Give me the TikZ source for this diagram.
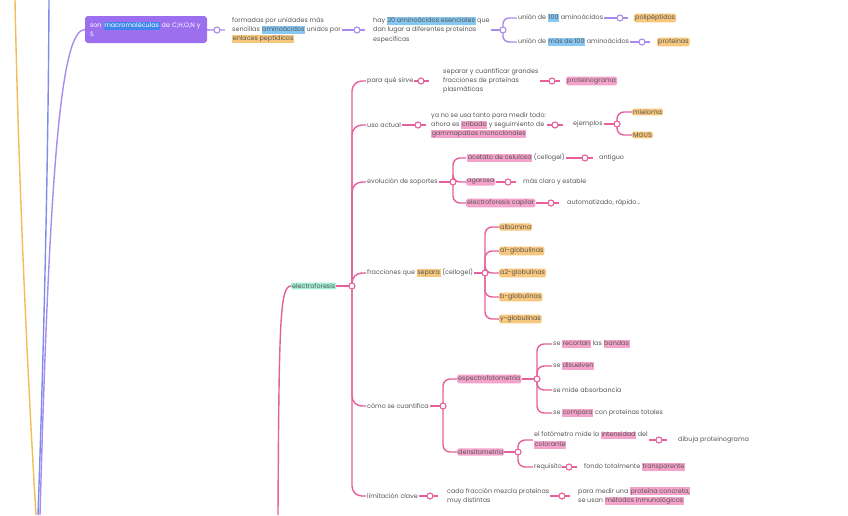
\documentclass[tikz,border=0pt]{standalone}
\usepackage{fontspec}
\setmainfont{Poppins}
\usepackage{xcolor}
\usepackage{tikz}
\usetikzlibrary{positioning,calc,backgrounds}
\definecolor{mmink}{HTML}{555555}
\definecolor{mmbox}{HTML}{9C6FEE}
\definecolor{mmviolet}{HTML}{A98BEF}
\definecolor{mmpink}{HTML}{E5609C}
\definecolor{mmyellow}{HTML}{F0BE55}
\definecolor{mmblue}{HTML}{7A8EEB}
\definecolor{hlpink}{HTML}{F6A3CB}
\definecolor{hlorange}{HTML}{F8C77E}
\definecolor{hlblue}{HTML}{86C8F2}
\definecolor{hlbluedk}{HTML}{3F86EC}
\definecolor{hlmint}{HTML}{A6EFD9}
\newcommand{\hlp}[1]{{\fboxsep=0.6pt\colorbox{hlpink}{\vphantom{hg}#1}}}
\newcommand{\hlo}[1]{{\fboxsep=0.6pt\colorbox{hlorange}{\vphantom{hg}#1}}}
\newcommand{\hlb}[1]{{\fboxsep=0.6pt\colorbox{hlblue}{\vphantom{hg}#1}}}
\newcommand{\hlbd}[1]{{\fboxsep=0.6pt\colorbox{hlbluedk}{\vphantom{hg}#1}}}
\tikzset{
  txt/.style    ={anchor=west,align=left,inner sep=1pt,text=mmink,font=\fontsize{6.4}{9.2}\selectfont},
  tagp/.style   ={txt,fill=hlpink,rounded corners=1.5pt},
  tago/.style   ={txt,fill=hlorange,rounded corners=1.5pt},
  tagm/.style   ={txt,fill=hlmint,rounded corners=1.5pt},
  rootbox/.style={rounded corners=3pt,fill=mmbox,text=white,inner sep=5pt,text width=112pt,minimum height=27pt,align=left,font=\fontsize{6.4}{9.2}\selectfont},
  knob/.style   ={circle,fill=white,line width=1.1pt,minimum size=6pt,inner sep=0pt},
  pknob/.style  ={knob,draw=mmpink},
  vknob/.style  ={knob,draw=mmviolet},
  plink/.style  ={draw=mmpink,line width=1.4pt,rounded corners=7pt},
  vlink/.style  ={draw=mmviolet,line width=1.4pt,rounded corners=6pt},
}
\begin{document}
\begin{tikzpicture}[x=1pt,y=-1pt]
  \useasboundingbox (0,0) rectangle (848,515);

  \node[rootbox] (root) at (146,29.5) {son \hlbd{macromoléculas} de C,H,O,N y\\S};
  \node[vknob] (v1) at (217,30) {};
  \node[txt] (form) at (231,30) {formadas por unidades más\\sencillas \hlb{aminoácidos} unidos por\\\hlo{enlaces peptídicos}};
  \node[vknob] (v2) at (357,30) {};
  \node[txt] (hay) at (372,30) {hay \hlb{20 aminoácidos esenciales} que\\dan lugar a diferentes proteínas\\específicas};
  \node[vknob] (v3) at (503,30) {};
  \node[txt] (u100) at (517,18) {unión de \hlb{100} aminoácidos};
  \node[txt] (um100) at (517,42) {unión de \hlb{más de 100} aminoácidos};
  \node[vknob] (v4) at (620,18) {};
  \node[tago] (poli) at (634,18) {polipéptidos};
  \node[vknob] (v5) at (642,42) {};
  \node[tago] (prot) at (657,42) {proteínas};

  \node[tagm] (elec) at (291,286) {electroforesis};
  \node[pknob] (e0) at (352,286) {};
  \node[txt] (sirve) at (366,81) {para qué sirve};
  \node[txt] (uso) at (366,125) {uso actual};
  \node[txt] (evol) at (366,182) {evolución de soportes};
  \node[txt] (frac) at (366,273) {fracciones que \hlo{separa} (cellogel)};
  \node[txt] (cuant) at (366,406) {cómo se cuantifica};
  \node[txt] (limit) at (366,496) {limitación clave};

  \node[pknob] (e1) at (421,81) {};
  \node[txt] (separar) at (442,81) {separar y cuantificar grandes\\fracciones de proteínas\\plasmáticas};
  \node[pknob] (e2) at (552,81) {};
  \node[tagp] (prgr) at (566,81) {proteinograma};

  \node[pknob] (e3) at (418,125) {};
  \node[txt] (yano) at (430,125) {ya no se usa tanto para medir todo:\\ahora es \hlp{cribado} y seguimiento de\\\hlp{gammapatías monoclonales}};
  \node[pknob] (e4) at (555,125) {};
  \node[txt] (ejem) at (572,124) {ejemplos};
  \node[pknob] (e5) at (617,124) {};
  \node[tago] (miel) at (632,112) {mieloma};
  \node[tago] (mgus) at (632,135) {MGUS};

  \node[pknob] (e6) at (453,182) {};
  \node[txt] (acet) at (466,158) {\hlp{acetato de celulosa} (cellogel)};
  \node[tagp] (agar) at (466,182) {agarosa};
  \node[tagp] (capil) at (466,203) {electroforesis capilar};
  \node[pknob] (e7) at (585,158) {};
  \node[txt] (antig) at (598,158) {antiguo};
  \node[pknob] (e8) at (508,182) {};
  \node[txt] (claro) at (522,182) {más claro y estable};
  \node[pknob] (e9) at (551,203) {};
  \node[txt] (autom) at (566,203) {automatizado, rápido...};

  \node[pknob] (e10) at (485,273) {};
  \foreach [count=\i] \t/\y in {albúmina/227,a1-globulinas/251,a2-globulinas/273,b-globulinas/297,y-globulinas/319}
    \node[tago] (gl\i) at (499,\y) {\t};

  \node[pknob] (e11) at (443,406) {};
  \node[tagp] (espec) at (457,379) {espectrofotometría};
  \node[tagp] (densi) at (457,452) {densitometría};
  \node[pknob] (e12) at (537,379) {};
  \node[txt] (recor) at (552,344) {se \hlp{recortan} las \hlp{bandas}};
  \node[txt] (disu) at (552,366) {se \hlp{disuelven}};
  \node[txt] (absor) at (552,390) {se mide absorbancia};
  \node[txt] (compa) at (552,413) {se \hlp{compara} con proteínas totales};
  \node[pknob] (e13) at (518,452) {};
  \node[txt] (foto) at (533,440) {el fotómetro mide la \hlp{intensidad} del\\\hlp{colorante}};
  \node[txt] (requi) at (533,467) {requisito};
  \node[pknob] (e14) at (659,440) {};
  \node[txt] (dibu) at (677,440) {dibuja proteinograma};
  \node[pknob] (e15) at (569,467) {};
  \node[txt] (fondo) at (583,467) {fondo totalmente \hlp{transparente}};

  \node[pknob] (e16) at (430,496) {};
  \node[txt] (cada) at (446,496) {cada fracción mezcla proteínas\\muy distintas};
  \node[pknob] (e17) at (562,496) {};
  \node[txt] (medir) at (577,496) {para medir una \hlp{proteína concreta,}\\se usan \hlp{métodos inmunológicos}};

  \begin{scope}[on background layer]
    \fill[white] (0,0) rectangle (848,515);
    \coordinate (ytop) at (15,0);
    \coordinate (ybot) at (36,515);
    \coordinate (btop) at (49,0);
    \coordinate (bbot) at (38,515);
    \coordinate (vbot) at (40,515);
    \coordinate (pbot) at (278,515);
    \draw[mmyellow,line width=1.4pt] (ytop) .. controls (19,200) and (29,400) .. (ybot);
    \draw[mmblue,line width=1.4pt] (btop) .. controls (48,200) and (42,400) .. (bbot);
    \draw[vlink] (vbot) .. controls (50,150) and (62,30) .. (root.west);
    \draw[plink] (pbot) .. controls (279,320) and (280,286) .. (elec.west);

    \draw[vlink] (root) -- (v1.center) -- ++(8,0);
    \draw[vlink] (form) -- (v2.center) -- ++(8,0);
    \draw[vlink] (hay) -- (v3.center);
    \draw[vlink] (u100) -- (v4.center) -- ++(8,0);
    \draw[vlink] (um100) -- (v5.center) -- ++(8,0);
    \foreach \c in {u100,um100}
      \draw[vlink] (v3.center) |- (\c.west);

    \draw[plink] (elec) -- (e0.center);
    \foreach \c in {sirve,uso,evol,frac,cuant,limit}
      \draw[plink,rounded corners=10pt] (e0.center) |- (\c.west);
    \foreach \a/\k in {sirve/e1,separar/e2,uso/e3,yano/e4,acet/e7,agar/e8,capil/e9,foto/e14,requi/e15,limit/e16,cada/e17}
      \draw[plink] (\a) -- (\k.center) -- ++(8,0);
    \foreach \a/\k in {ejem/e5,evol/e6,frac/e10,cuant/e11,espec/e12,densi/e13}
      \draw[plink] (\a) -- (\k.center);
    \foreach \k/\c in {e5/miel,e5/mgus,e6/acet,e6/agar,e6/capil,e10/gl1,e10/gl2,e10/gl3,e10/gl4,e10/gl5,e11/espec,e11/densi,e12/recor,e12/disu,e12/absor,e12/compa,e13/foto,e13/requi}
      \draw[plink] (\k.center) |- (\c.west);
  \end{scope}
\end{tikzpicture}
\end{document}
